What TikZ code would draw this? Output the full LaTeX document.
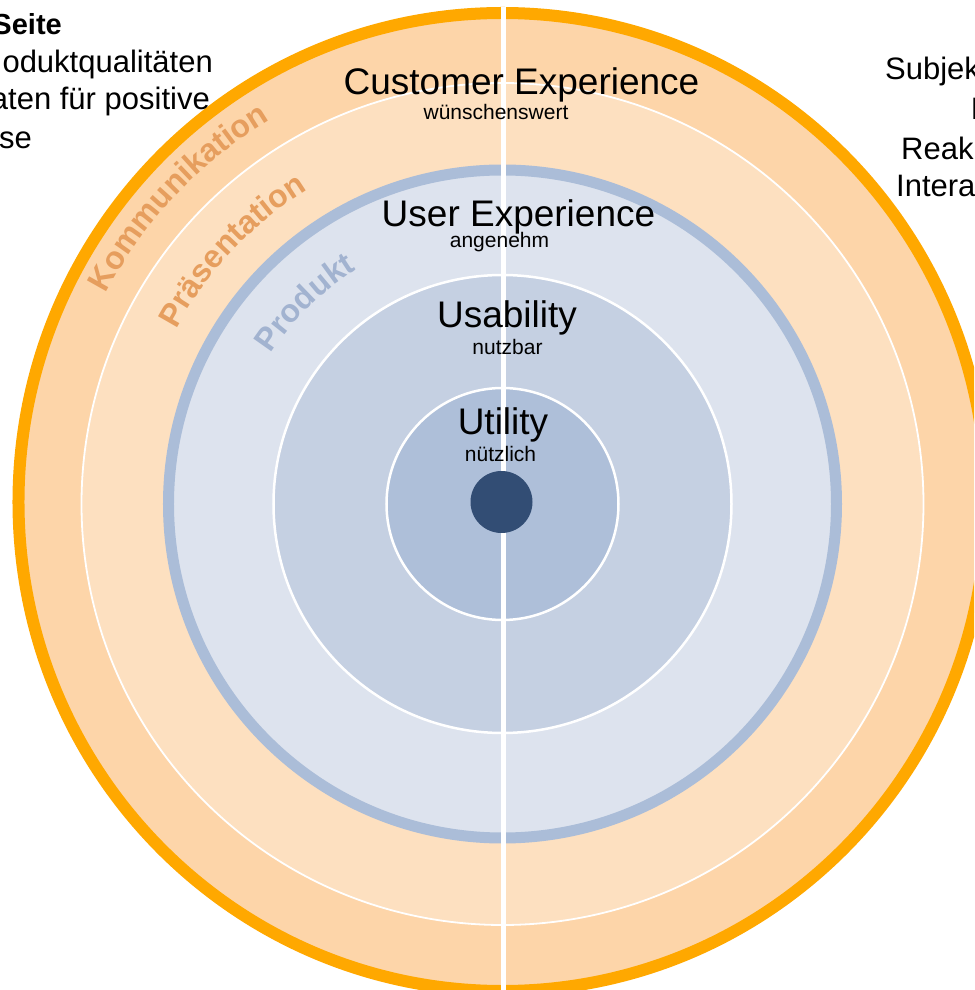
\documentclass[tikz,border=0pt]{standalone}
\usepackage{fontspec}
\setmainfont{Liberation Sans}
\usetikzlibrary{decorations.text}

\definecolor{ringorange}{RGB}{255,168,0}
\definecolor{peachdark}{RGB}{253,213,169}
\definecolor{peachlight}{RGB}{253,224,192}
\definecolor{ringblue}{RGB}{171,189,216}
\definecolor{bluepale}{RGB}{221,227,238}
\definecolor{bluemid}{RGB}{197,208,226}
\definecolor{bluedeep}{RGB}{174,191,217}
\definecolor{corecol}{RGB}{50,77,116}
\definecolor{labelorange}{RGB}{230,158,94}
\definecolor{labelblue}{RGB}{162,179,208}

\newcommand{\fsz}[1]{\fontsize{#1}{#1}\selectfont}

\tikzset{
  level/.style={anchor=base, inner sep=0pt, font=\fsz{37}},
  sublevel/.style={anchor=base, inner sep=0pt, font=\fsz{21}},
  side/.style={inner sep=0pt, font=\fsz{31}},
  ring/.style={line width=#1}
}

\begin{document}
\begin{tikzpicture}[x=1pt,y=1pt]
	\useasboundingbox (-502.5,-486) rectangle (471.5,504);
	\clip (-502.5,-486) rectangle (471.5,504);
	% rings, outside in
	\draw[ringorange,ring=12pt,fill=peachdark] (0,2) ellipse[x radius=484pt,y radius=489pt];
	\draw[white,ring=1.8pt,fill=peachlight] (0,0) circle[radius=421pt];
	\draw[ringblue,ring=11pt,fill=bluepale] (0,0) circle[radius=334pt];
	\draw[white,ring=2.5pt,fill=bluemid] (0,0) circle[radius=229pt];
	\draw[white,ring=2.5pt,fill=bluedeep] (0,0) circle[radius=116pt];
	% divider and core
	\coordinate (divtop) at (1,497);
	\coordinate (divbot) at (1,-493);
	\draw[white,line width=4.5pt] (divtop) -- (divbot);
	\fill[corecol] (-1,2) circle[radius=31pt];

	% layer titles
	\node[level] (cx) at (19,409) {Customer Experience};
	\node[sublevel] (cxsub) at (-6.5,384) {wünschenswert};
	\node[level] (ux) at (16,277) {User Experience};
	\node[sublevel] (uxsub) at (-3,256) {angenehm};
	\node[level] (usab) at (4.5,176) {Usability};
	\node[sublevel] (usabsub) at (5,149) {nutzbar};
	\node[level] (util) at (0.5,69) {Utility};
	\node[sublevel] (utilsub) at (-2,42) {nützlich};

	% labels along the rings
	\path[decorate,decoration={text along path,text align=center,
		text={|\fsz{32}\bfseries\color{labelorange}|Kommunikation}}]
		(166.6:449pt) arc[start angle=166.6,end angle=106.6,radius=449pt];
	\path[decorate,decoration={text along path,text align=center,
		text={|\fsz{32}\bfseries\color{labelorange}|Präsentation}}]
		(166.8:370pt) arc[start angle=166.8,end angle=106.8,radius=370pt];
	\path[decorate,decoration={text along path,text align=center,
		text={|\fsz{32}\bfseries\color{labelblue}|Produkt}}]
		(164.5:276pt) arc[start angle=164.5,end angle=104.5,radius=276pt];

	% side notes
	\node[side,anchor=base east,font=\fsz{29}\bfseries] (lefta) at (-440.5,469) {Seite};
	\node[side,anchor=base east] (leftb) at (-289.5,431.3) {oduktqualitäten};
	\node[side,anchor=base east] (leftc) at (-292.5,394) {aten für positive};
	\node[side,anchor=base east] (leftd) at (-470.5,355.7) {se};
	\node[side,anchor=base west] (righta) at (382.5,424) {Subjek};
	\node[side,anchor=base west] (rightb) at (468,384) {I};
	\node[side,anchor=base west] (rightc) at (398.5,344) {Reak};
	\node[side,anchor=base west] (rightd) at (393.5,307.3) {Intera};
\end{tikzpicture}
\end{document}
